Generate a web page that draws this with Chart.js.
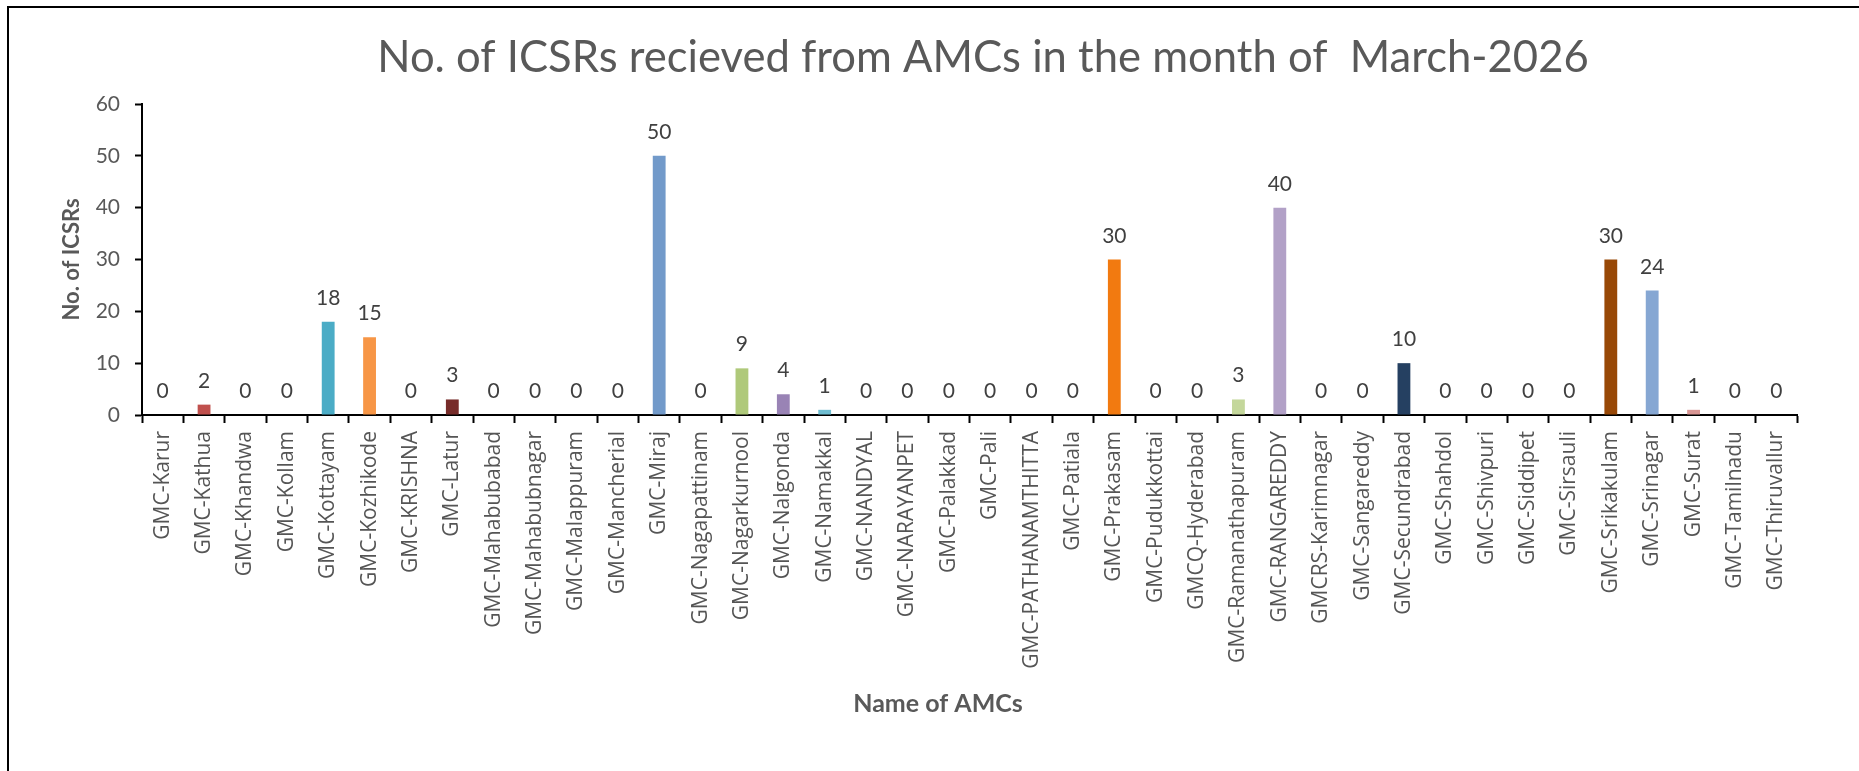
<!DOCTYPE html>
<html>
<head>
<meta charset="utf-8">
<title>ICSRs by AMC</title>
<script src="https://cdn.jsdelivr.net/npm/chart.js@4.4.0/dist/chart.umd.min.js"></script>
<style>
    html, body { margin: 0; padding: 0; background: #fff; }
    #wrap { position: relative; width: 1859px; height: 771px; overflow: hidden; }
    #frame { position: absolute; left: 7px; top: 6px; width: 1900px; height: 900px;
             border-left: 2px solid #000; border-top: 2px solid #000; }
    #icsrChart { position: absolute; left: 0; top: 0; }
</style>
</head>
<body>
<div id="wrap">
    <div id="frame"></div>
    <canvas id="icsrChart" width="1859" height="771"></canvas>
</div>
<script>
const chartTitle = 'No. of ICSRs recieved from AMCs in the month of  March-2026';
const xTitle = 'Name of AMCs';
const yTitle = 'No. of ICSRs';
const amcNames = [
    'GMC-Karur', 'GMC-Kathua', 'GMC-Khandwa', 'GMC-Kollam', 'GMC-Kottayam',
    'GMC-Kozhikode', 'GMC-KRISHNA', 'GMC-Latur', 'GMC-Mahabubabad', 'GMC-Mahabubnagar',
    'GMC-Malappuram', 'GMC-Mancherial', 'GMC-Miraj', 'GMC-Nagapattinam', 'GMC-Nagarkurnool',
    'GMC-Nalgonda', 'GMC-Namakkal', 'GMC-NANDYAL', 'GMC-NARAYANPET', 'GMC-Palakkad',
    'GMC-Pali', 'GMC-PATHANAMTHITTA', 'GMC-Patiala', 'GMC-Prakasam', 'GMC-Pudukkottai',
    'GMCQ-Hyderabad', 'GMC-Ramanathapuram', 'GMC-RANGAREDDY', 'GMCRS-Karimnagar', 'GMC-Sangareddy',
    'GMC-Secundrabad', 'GMC-Shahdol', 'GMC-Shivpuri', 'GMC-Siddipet', 'GMC-Sirsauli',
    'GMC-Srikakulam', 'GMC-Srinagar', 'GMC-Surat', 'GMC-Tamilnadu', 'GMC-Thiruvallur'
];
const icsrCounts = [
    0, 2, 0, 0, 18,
    15, 0, 3, 0, 0,
    0, 0, 50, 0, 9,
    4, 1, 0, 0, 0,
    0, 0, 0, 30, 0,
    0, 3, 40, 0, 0,
    10, 0, 0, 0, 0,
    30, 24, 1, 0, 0
];
const yTicks = [0, 10, 20, 30, 40, 50, 60];

// excel "vary colours by point" palette
const barColors = [
    '#4F81BD', '#C0504D', '#9BBB59', '#8064A2', '#4BACC6',
    '#F79646', '#2C4D75', '#772C2A', '#5F7530', '#4D3B62',
    '#276A7C', '#B65708', '#729ACA', '#CD7371', '#AFC97A',
    '#9983B5', '#6FBDD1', '#F9AB6B', '#3A679C', '#9F3B38',
    '#7E9C40', '#664F83', '#358EA6', '#F27A10', '#95B3D7',
    '#E6B9B8', '#C4D79B', '#B2A1C7', '#93CDDD', '#FAC090',
    '#254061', '#632523', '#4F6228', '#3F3151', '#215968',
    '#984807', '#86A7D3', '#D99694', '#D7E4BC', '#CCC1DA'
];

// numbers above the bars
const valueLabels = {
    id: 'valueLabels',
    afterDatasetsDraw(chart) {
        const ctx = chart.ctx;
        const meta = chart.getDatasetMeta(0);
        ctx.save();
        ctx.font = '21px Lato';
        ctx.fillStyle = '#404040';
        ctx.textAlign = 'center';
        ctx.textBaseline = 'alphabetic';
        meta.data.forEach(function (bar, i) {
            ctx.fillText(String(icsrCounts[i]), bar.x, bar.y - 17);
        });
        ctx.restore();
    }
};

// chart title and x title sit off-centre in the original, so draw them here
const titles = {
    id: 'titles',
    afterDraw(chart) {
        const ctx = chart.ctx;
        ctx.save();
        ctx.fillStyle = '#595959';
        ctx.textAlign = 'center';
        ctx.textBaseline = 'alphabetic';
        ctx.font = '43.6px Lato';
        ctx.fillText(chartTitle, 983, 72);
        ctx.font = 'bold 25px Lato';
        ctx.fillText(xTitle, 938, 712);
        ctx.restore();
    }
};

const ctx = document.getElementById('icsrChart').getContext('2d');
const icsrChart = new Chart(ctx, {
    type: 'bar',
    data: {
        labels: amcNames,
        datasets: [{
            label: yTitle,
            data: icsrCounts,
            backgroundColor: barColors,
            borderWidth: 0,
            categoryPercentage: 1,
            barPercentage: 0.31
        }]
    },
    plugins: [valueLabels, titles],
    options: {
        responsive: false,
        animation: false,
        devicePixelRatio: 1,
        layout: {
            padding: { left: 0, right: 62, top: 104, bottom: 0 }
        },
        plugins: {
            legend: { display: false },
            tooltip: { enabled: false },
            title: { display: false }
        },
        scales: {
            x: {
                afterFit: function (scale) { scale.height = 356; },
                grid: {
                    offset: true,
                    drawOnChartArea: false,
                    drawTicks: true,
                    tickLength: 8,
                    tickWidth: 2,
                    tickColor: '#000'
                },
                border: { display: true, color: '#000', width: 2 },
                ticks: {
                    autoSkip: false,
                    minRotation: 90,
                    maxRotation: 90,
                    padding: 8,
                    color: '#555555',
                    font: { family: 'Open Sans', size: 21 }
                }
            },
            y: {
                min: 0,
                max: 60,
                afterFit: function (scale) { scale.width = 142; },
                afterBuildTicks: function (scale) {
                    scale.ticks = yTicks.map(function (v) { return { value: v }; });
                },
                grid: {
                    drawOnChartArea: false,
                    drawTicks: true,
                    tickLength: 7,
                    tickWidth: 2,
                    tickColor: '#000'
                },
                border: { display: true, color: '#000', width: 2 },
                ticks: {
                    padding: 15,
                    color: '#595959',
                    font: { family: 'Lato', size: 21 }
                },
                title: {
                    display: true,
                    text: yTitle,
                    color: '#595959',
                    font: { family: 'Lato', size: 22, weight: 'bold', lineHeight: 1.2 },
                    padding: { top: 59, bottom: 0 }
                }
            }
        }
    }
});
</script>
</body>
</html>
